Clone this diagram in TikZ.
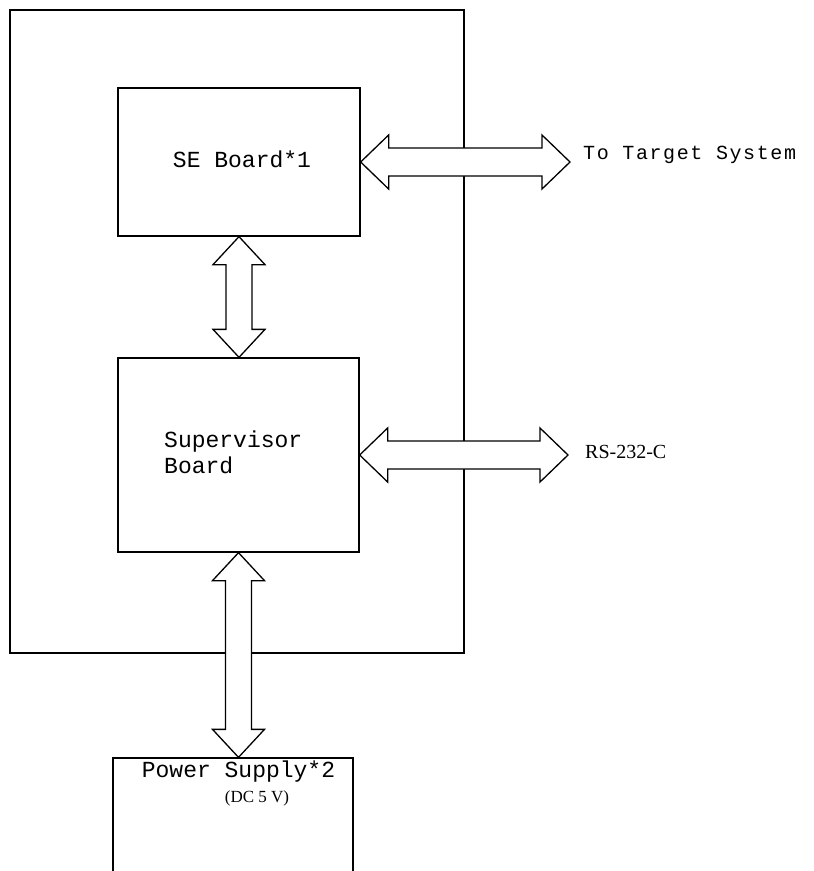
\documentclass[tikz,border=0pt]{standalone}
\usepackage{fontspec}
\setmainfont{Liberation Serif}
\newfontfamily\tw{Liberation Mono}
\newfontfamily\twb[LetterSpace=8]{Liberation Mono}
\usetikzlibrary{calc}
\newcommand\hdarrow[2]{%
  \filldraw[conn] let \p1=(#1), \p2=(#2) in
   (\x1,\y1) -- (\x1+28pt,\y1+27pt) -- (\x1+28pt,\y1+14pt) -- (\x2-28pt,\y1+14pt)
   -- (\x2-28pt,\y1+27pt) -- (\x2,\y1) -- (\x2-28pt,\y1-27pt) -- (\x2-28pt,\y1-14pt)
   -- (\x1+28pt,\y1-14pt) -- (\x1+28pt,\y1-27pt) -- cycle;}
\newcommand\vdarrow[2]{%
  \filldraw[conn] let \p1=(#1), \p2=(#2) in
   (\x1,\y1) -- (\x1+26pt,\y1-28pt) -- (\x1+13pt,\y1-28pt) -- (\x1+13pt,\y2+28pt)
   -- (\x1+26pt,\y2+28pt) -- (\x1,\y2) -- (\x1-26pt,\y2+28pt) -- (\x1-13pt,\y2+28pt)
   -- (\x1-13pt,\y1-28pt) -- (\x1-26pt,\y1-28pt) -- cycle;}
\begin{document}
\begin{tikzpicture}[x=1pt,y=-1pt,
  box/.style={draw, rectangle, inner sep=0pt, line width=1.3pt},
  conn/.style={draw, fill=white, line width=1.3pt, line join=miter},
  lbl/.style={inner sep=0pt, anchor=base west, font={\tw\fontsize{23}{23}\selectfont}},
  serl/.style={inner sep=0pt, anchor=base west, font={\fontsize{20}{20}\selectfont}}]
\useasboundingbox (0,0) rectangle (814,871);
\clip (0,0) rectangle (814,871);
\fill[white] (0,0) rectangle (814,871);
\node[box, minimum width=454pt, minimum height=643pt] (sys) at (237,331.5) {};
\node[box, minimum width=242pt, minimum height=148pt] (se) at (239,162) {};
\node[box, minimum width=241pt, minimum height=194pt] (sup) at (238.5,455) {};
\node[box, minimum width=240pt, minimum height=142pt] (ps) at (233,829) {};
\coordinate (tgt) at (570,162);
\coordinate (rs) at (568,455);
\hdarrow{se.east}{tgt}
\hdarrow{sup.east}{rs}
\vdarrow{se.south}{sup.north}
\vdarrow{sup.south}{ps.north}
\node[lbl, anchor=base] (t1) at (242,167) {SE Board*1};
\node[lbl] (t2) at (164,447) {Supervisor};
\node[lbl] (t3) at (164,473) {Board};
\node[lbl, font={\twb\fontsize{20}{20}\selectfont}] (t4) at (583,159) {To Target System};
\node[serl] (t5) at (585,458) {RS-232-C};
\node[lbl, anchor=base] (t6) at (238.5,777) {Power Supply*2};
\node[serl, anchor=base, font={\fontsize{17}{17}\selectfont}] (t7) at (257,802) {(DC 5 V)};
\end{tikzpicture}
\end{document}
